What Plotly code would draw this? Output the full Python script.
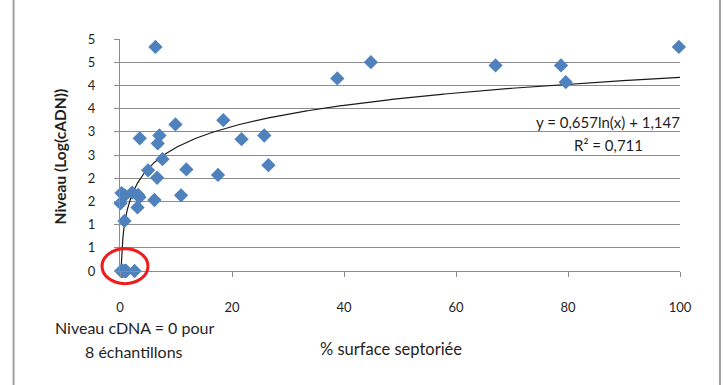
import math
import numpy as np
import plotly.graph_objects as go

# data: % surface septoriée vs Niveau (Log(cADN))
surface = [6.33, 38.8, 44.8, 9.9, 18.45, 3.53, 7.04, 6.74, 21.7, 25.76, 7.58, 5.02,
           11.85, 26.5, 6.63, 17.5, 0.27, 0.86, 2.17, 3.24, 3.48, 0.09, 3.12, 6.15,
           10.9, 0.8, 67.06, 78.75, 79.6, 99.8,
           0.2, 0.35, 0.5, 0.8, 1.0, 1.1, 0.4, 2.6]
niveau = [4.83, 4.15, 4.50, 3.16, 3.25, 2.86, 2.92, 2.75, 2.84, 2.92, 2.41, 2.17,
          2.19, 2.28, 2.01, 2.07, 1.68, 1.63, 1.69, 1.64, 1.59, 1.46, 1.37, 1.53,
          1.63, 1.08, 4.43, 4.43, 4.07, 4.83,
          0, 0, 0, 0, 0, 0, 0, 0]
coef_a = 0.657
coef_b = 1.147
x_ticks = [0, 20, 40, 60, 80, 100]
y_ticks = [0, 0.5, 1, 1.5, 2, 2.5, 3, 3.5, 4, 4.5, 5]
y_ticktext = [str(int(math.floor(v + 0.5))) for v in y_ticks]

font = "Lato, 'Open Sans', sans-serif"
txt = "#1f1f1f"
grid = "#8c8c8c"

xt = np.linspace(0.175, 100, 600)
yt = coef_a * np.log(xt) + coef_b

fig = go.Figure()
fig.add_trace(go.Scatter(x=xt, y=yt, mode="lines",
                         line=dict(color="#1a1a1a", width=1.2),
                         hoverinfo="skip", showlegend=False))
fig.add_trace(go.Scatter(x=surface, y=niveau, mode="markers",
                         marker=dict(symbol="diamond", size=11, color="#4f81bd",
                                     line=dict(width=0)),
                         cliponaxis=False, showlegend=False))

# plot area spans x 119.5..680, y 39..271.3 on screen (body margin removed below)
fig.update_layout(
    width=723, height=385,
    margin=dict(l=119.5, r=43, t=39, b=113.7),
    paper_bgcolor="white", plot_bgcolor="white",
    font=dict(family=font, size=13, color=txt),
    xaxis=dict(range=[0, 100], tickvals=x_ticks, showgrid=False, zeroline=False,
               showline=True, linecolor=grid, linewidth=1,
               ticks="outside", ticklen=5, tickcolor=grid,
               ticklabelstandoff=19, tickfont=dict(size=13, color=txt)),
    yaxis=dict(range=[0, 5], tickvals=y_ticks, ticktext=y_ticktext,
               showgrid=True, gridcolor=grid, gridwidth=1, zeroline=False,
               showline=True, linecolor=grid, linewidth=1,
               ticks="outside", ticklen=5, tickcolor=grid,
               ticklabelstandoff=16, tickfont=dict(size=13, color=txt)),
)

def px2paper_x(px):
    return (px - 119.5) / 560.5

def py2paper_y(py):
    return (271.3 - py) / 232.3

annots = [
    dict(text="<b>Niveau (Log(cADN))</b>", x=px2paper_x(59), y=py2paper_y(157),
         textangle=-90, font=dict(size=15.5)),
    dict(text="y = 0,657ln(x) + 1,147", x=px2paper_x(608), y=py2paper_y(122),
         font=dict(size=15)),
    dict(text="R² = 0,711", x=px2paper_x(608), y=py2paper_y(145),
         font=dict(size=15)),
    dict(text="Niveau cDNA = 0 pour", x=px2paper_x(134), y=py2paper_y(328),
         font=dict(size=16)),
    dict(text="8 échantillons", x=px2paper_x(134), y=py2paper_y(352),
         font=dict(size=16)),
    dict(text="% surface septoriée", x=px2paper_x(391), y=py2paper_y(349),
         font=dict(size=16.5)),
]
for a in annots:
    fig.add_annotation(xref="paper", yref="paper", showarrow=False,
                       xanchor="center", yanchor="middle", **a)

# red ellipse highlighting zero samples
fig.add_shape(type="circle", xref="paper", yref="paper",
              x0=px2paper_x(101.5), x1=px2paper_x(147.5),
              y0=py2paper_y(284), y1=py2paper_y(249),
              line=dict(color="#ee1c1c", width=3))

# outer chart border (left/right visible)
for px in (13, 720):
    fig.add_shape(type="line", xref="paper", yref="paper",
                  x0=px2paper_x(px), x1=px2paper_x(px),
                  y0=py2paper_y(400), y1=py2paper_y(-20),
                  line=dict(color="#a0a0a0", width=2))

fig.write_html("out.html",
               config={"displayModeBar": False},
               post_script="document.body.style.margin='0';document.body.style.overflow='hidden';")
